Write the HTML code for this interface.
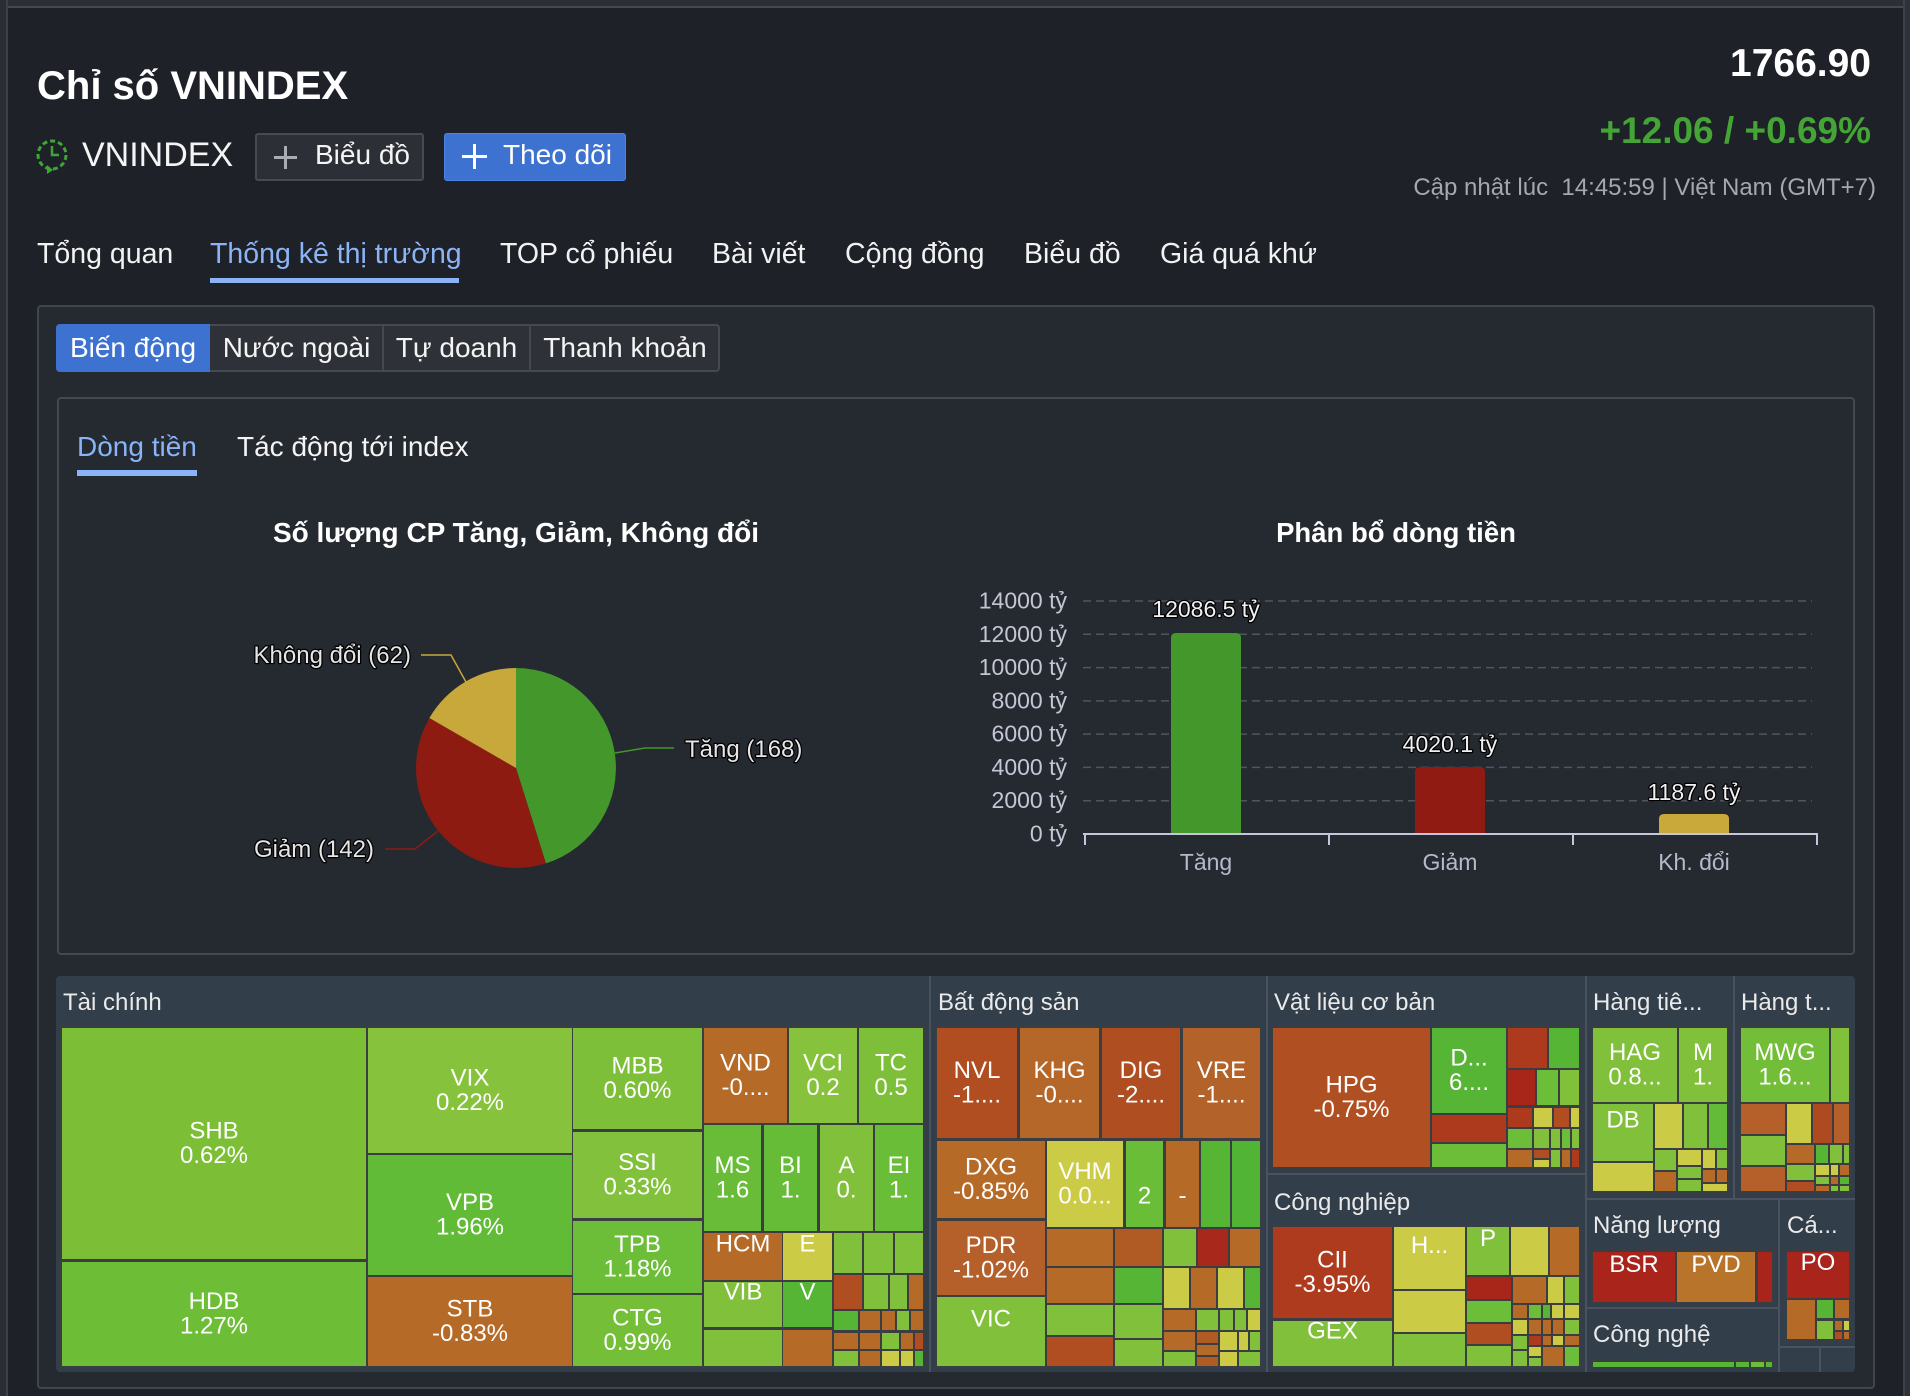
<!DOCTYPE html>
<html><head><meta charset="utf-8">
<style>
*{margin:0;padding:0;box-sizing:border-box}
html,body{width:1910px;height:1396px;overflow:hidden;background:#1e2128}
body{position:relative;font-family:"Liberation Sans","DejaVu Sans",sans-serif;color:#fff}
.a{position:absolute;white-space:nowrap}
.nav{top:240px;font-size:28.5px;line-height:29px;color:#f2f2f2}
.tb{top:324px;height:48px;display:flex;align-items:center;justify-content:center;font-size:28px;color:#f4f4f4}
</style></head><body>

<!-- window chrome -->
<div class="a" style="left:0;top:0;width:1910px;height:6px;background:#2c2f36"></div>
<div class="a" style="left:0;top:6px;width:1910px;height:2px;background:#454850"></div>
<div class="a" style="left:0;top:0;width:6px;height:1396px;background:#2a2d33"></div>
<div class="a" style="left:6px;top:0;width:2px;height:1396px;background:#3e4148"></div>
<div class="a" style="left:1903px;top:0;width:2px;height:1396px;background:#3e4148"></div>
<div class="a" style="left:1905px;top:0;width:5px;height:1396px;background:#2f3238"></div>

<!-- header -->
<div class="a" style="left:37px;top:66px;font-size:40px;line-height:40px;font-weight:bold">Chỉ số VNINDEX</div>

<svg class="a" style="left:35px;top:137px" width="36" height="38" viewBox="0 0 36 38">
<circle cx="17" cy="18" r="14" fill="none" stroke="#3fa535" stroke-width="3" stroke-dasharray="5 3"/>
<path d="M17 9 V18 H24" fill="none" stroke="#3fa535" stroke-width="2.5"/>
<path d="M12 28 L18 33 L12 37 Z" fill="#3fa535"/>
</svg>
<div class="a" style="left:82px;top:138px;font-size:34px;line-height:34px;color:#f4f4f4">VNINDEX</div>

<div class="a" style="left:255px;top:133px;width:169px;height:48px;background:#2c2f36;border:2px solid #474a51;border-radius:3px"></div>
<div class="a" style="left:274px;top:156px;width:23px;height:3px;background:#a9acb3"></div>
<div class="a" style="left:284px;top:146px;width:3px;height:23px;background:#a9acb3"></div>
<div class="a" style="left:315px;top:141px;font-size:28px;line-height:28px;color:#f4f4f4">Biểu đồ</div>

<div class="a" style="left:444px;top:133px;width:182px;height:48px;background:#3d72d1;border:1px solid #4d84e4;border-radius:3px"></div>
<div class="a" style="left:462px;top:155px;width:25px;height:3px;background:#fff"></div>
<div class="a" style="left:473px;top:144px;width:3px;height:25px;background:#fff"></div>
<div class="a" style="left:503px;top:141px;font-size:28px;line-height:28px;color:#fff">Theo dõi</div>

<div class="a" style="right:39px;top:44px;font-size:39px;line-height:39px;font-weight:bold">1766.90</div>
<div class="a" style="right:39px;top:112px;font-size:37px;line-height:37px;font-weight:bold;color:#44a536">+12.06 / +0.69%</div>
<div class="a" style="right:34px;top:176px;font-size:24px;line-height:24px;color:#a5a8b0">Cập nhật lúc&nbsp; 14:45:59 | Việt Nam (GMT+7)</div>

<!-- nav -->
<div class="a nav" style="left:37px">Tổng quan</div>
<div class="a nav" style="left:210px;color:#8cb4f5">Thống kê thị trường</div>
<div class="a nav" style="left:500px">TOP cổ phiếu</div>
<div class="a nav" style="left:712px">Bài viết</div>
<div class="a nav" style="left:845px">Cộng đồng</div>
<div class="a nav" style="left:1024px">Biểu đồ</div>
<div class="a nav" style="left:1160px">Giá quá khứ</div>
<div class="a" style="left:210px;top:278px;width:249px;height:5px;background:#8cb4f5"></div>

<!-- panel -->
<div class="a" style="left:37px;top:305px;width:1838px;height:1084px;background:#252930;border:2px solid #41454c;border-radius:4px"></div>

<div class="a" style="left:56px;top:324px;width:664px;height:48px;background:#2e3138;border:2px solid #44484f;border-radius:4px"></div>
<div class="a" style="left:56px;top:324px;width:154px;height:48px;background:#3d72d0;border-radius:4px 0 0 4px"></div>
<div class="a" style="left:382px;top:324px;width:2px;height:48px;background:#44484f"></div>
<div class="a" style="left:529px;top:324px;width:2px;height:48px;background:#44484f"></div>
<div class="a tb" style="left:56px;width:154px;color:#fff">Biến động</div>
<div class="a tb" style="left:210px;width:173px">Nước ngoài</div>
<div class="a tb" style="left:383px;width:147px">Tự doanh</div>
<div class="a tb" style="left:530px;width:190px">Thanh khoản</div>

<div class="a" style="left:57px;top:397px;width:1798px;height:558px;border:2px solid #45494f;border-radius:4px"></div>
<div class="a" style="left:77px;top:433px;font-size:28px;line-height:28px;color:#8ab4f8">Dòng tiền</div>
<div class="a" style="left:77px;top:470px;width:120px;height:6px;background:#8ab4f8"></div>
<div class="a" style="left:237px;top:433px;font-size:28px;line-height:28px;color:#f4f4f4">Tác động tới index</div>

<!-- treemap container -->
<div class="a" style="left:56px;top:976px;width:1799px;height:396px;background:#333e4b;border-radius:4px"></div>

<svg class="a" style="left:0;top:0" width="1910" height="1396" font-family="Liberation Sans, DejaVu Sans, sans-serif">
<!-- pie chart -->
<text x="516" y="542" text-anchor="middle" font-size="28" font-weight="bold" fill="#fff">Số lượng CP Tăng, Giảm, Không đổi</text>
<path d="M516,768 L516,668 A100,100 0 0 1 545.9,863.4 Z" fill="#43972b"/>
<path d="M516,768 L545.9,863.4 A100,100 0 0 1 429.4,718 Z" fill="#8e1b12"/>
<path d="M516,768 L429.4,718 A100,100 0 0 1 516,668 Z" fill="#c8a83a"/>
<polyline points="466,682 451,655 421,655" fill="none" stroke="#c8a83a" stroke-width="1.5"/>
<polyline points="615,753 645,748 674,748" fill="none" stroke="#43972b" stroke-width="1.5"/>
<polyline points="438,831 415,849 385,849" fill="none" stroke="#8e1b12" stroke-width="1.5"/>
<g font-size="24" fill="#e6e6e6" stroke="#000" stroke-width="2.5" paint-order="stroke" stroke-linejoin="round">
<text x="411" y="663" text-anchor="end">Không đổi (62)</text>
<text x="685" y="757">Tăng (168)</text>
<text x="374" y="857" text-anchor="end">Giảm (142)</text>
</g>

<!-- bar chart -->
<text x="1396" y="542" text-anchor="middle" font-size="27.5" font-weight="bold" fill="#fff">Phân bổ dòng tiền</text>
<g stroke="#50555f" stroke-width="1.5" stroke-dasharray="8 5">
<line x1="1083" y1="601" x2="1812" y2="601"/>
<line x1="1083" y1="634.3" x2="1812" y2="634.3"/>
<line x1="1083" y1="667.6" x2="1812" y2="667.6"/>
<line x1="1083" y1="700.9" x2="1812" y2="700.9"/>
<line x1="1083" y1="734.1" x2="1812" y2="734.1"/>
<line x1="1083" y1="767.4" x2="1812" y2="767.4"/>
<line x1="1083" y1="800.7" x2="1812" y2="800.7"/>
</g>
<g font-size="23" fill="#c5c5d5" text-anchor="end">
<text x="1067" y="608.5">14000 tỷ</text>
<text x="1067" y="641.8">12000 tỷ</text>
<text x="1067" y="675.1">10000 tỷ</text>
<text x="1067" y="708.4">8000 tỷ</text>
<text x="1067" y="741.6">6000 tỷ</text>
<text x="1067" y="774.9">4000 tỷ</text>
<text x="1067" y="808.2">2000 tỷ</text>
<text x="1067" y="841.5">0 tỷ</text>
</g>
<path d="M1171,834 V638 Q1171,633 1176,633 H1236 Q1241,633 1241,638 V834 Z" fill="#43972b"/>
<path d="M1415,834 V772 Q1415,767 1420,767 H1480 Q1485,767 1485,772 V834 Z" fill="#8f1b12"/>
<path d="M1659,834 V819 Q1659,814 1664,814 H1724 Q1729,814 1729,819 V834 Z" fill="#c9a93a"/>
<g stroke="#c5c5dc" stroke-width="2" fill="none">
<line x1="1083" y1="834" x2="1818" y2="834"/>
<line x1="1085" y1="834" x2="1085" y2="845"/>
<line x1="1329" y1="834" x2="1329" y2="845"/>
<line x1="1573" y1="834" x2="1573" y2="845"/>
<line x1="1817" y1="834" x2="1817" y2="845"/>
</g>
<g font-size="23" fill="#f0f0f0" stroke="#000" stroke-width="2.5" paint-order="stroke" stroke-linejoin="round" text-anchor="middle">
<text x="1206" y="617">12086.5 tỷ</text>
<text x="1450" y="752">4020.1 tỷ</text>
<text x="1694" y="800">1187.6 tỷ</text>
</g>
<g font-size="23" fill="#b8b8cc" text-anchor="middle">
<text x="1206" y="870">Tăng</text>
<text x="1450" y="870">Giảm</text>
<text x="1694" y="870">Kh. đổi</text>
</g>

<!-- treemap tile area backgrounds -->
<g fill="#3a3d41">
<rect x="60" y="1026" width="865" height="342"/>
<rect x="935" y="1026" width="327" height="342"/>
<rect x="1271" y="1026" width="310" height="143"/>
<rect x="1271" y="1225" width="310" height="143"/>
<rect x="1591" y="1026" width="138" height="167"/>
<rect x="1739" y="1026" width="112" height="167"/>
<rect x="1591" y="1250" width="183" height="54"/>
<rect x="1785" y="1250" width="66" height="91"/>
<rect x="1591" y="1360" width="183" height="8"/>
</g>

<!-- separators -->
<g fill="#4a5260">
<rect x="929" y="976" width="2" height="396"/>
<rect x="1266" y="976" width="2" height="396"/>
<rect x="1585" y="976" width="2" height="396"/>
<rect x="1268" y="1173" width="317" height="2"/>
<rect x="1587" y="1198" width="268" height="2"/>
<rect x="1733" y="976" width="2" height="222"/>
<rect x="1587" y="1307" width="191" height="2"/>
<rect x="1778" y="1200" width="2" height="172"/>
<rect x="1780" y="1346" width="75" height="2"/>
<rect x="1819" y="1348" width="2" height="24"/>
</g>

<!-- Tài chính tiles -->
<rect x="62" y="1028" width="304" height="231" fill="#7cbf37"/>
<rect x="62" y="1262" width="304" height="104" fill="#6dbd37"/>
<rect x="368" y="1028" width="204" height="125" fill="#87c23c"/>
<rect x="368" y="1155" width="204" height="120" fill="#61bb36"/>
<rect x="368" y="1277" width="204" height="89" fill="#b56a27"/>
<rect x="573" y="1028" width="129" height="101" fill="#7dbf39"/>
<rect x="573" y="1132" width="129" height="86" fill="#82c13b"/>
<rect x="573" y="1221" width="129" height="72" fill="#6cbd37"/>
<rect x="573" y="1295" width="129" height="71" fill="#74be38"/>
<rect x="704" y="1028" width="83" height="95" fill="#b56a27"/>
<rect x="789" y="1028" width="68" height="95" fill="#87c23c"/>
<rect x="859" y="1028" width="64" height="95" fill="#7dbf39"/>
<rect x="704" y="1125" width="57" height="106" fill="#68bc37"/>
<rect x="764" y="1125" width="53" height="106" fill="#66bb37"/>
<rect x="820" y="1125" width="53" height="106" fill="#80c03a"/>
<rect x="875" y="1125" width="48" height="106" fill="#6abd37"/>
<rect x="704" y="1233" width="78" height="47" fill="#b56a27"/>
<rect x="783" y="1233" width="49" height="47" fill="#cccb45"/>
<rect x="704" y="1282" width="78" height="45" fill="#80c03a"/>
<rect x="783" y="1282" width="49" height="45" fill="#56b535"/>
<rect x="704" y="1330" width="78" height="36" fill="#80c03a"/>
<rect x="783" y="1330" width="49" height="36" fill="#b56a27"/>
<rect x="834" y="1233" width="28" height="40" fill="#80c03a"/>
<rect x="864" y="1233" width="29" height="40" fill="#80c03a"/>
<rect x="895" y="1233" width="28" height="40" fill="#80c03a"/>
<rect x="834" y="1275" width="28" height="34" fill="#b04e21"/>
<rect x="864" y="1275" width="24" height="34" fill="#80c03a"/>
<rect x="890" y="1275" width="17" height="34" fill="#80c03a"/>
<rect x="909" y="1275" width="14" height="34" fill="#b56a27"/>
<rect x="834" y="1311" width="24" height="19" fill="#56b535"/>
<rect x="860" y="1311" width="20" height="19" fill="#b56a27"/>
<rect x="882" y="1311" width="13" height="19" fill="#b56a27"/>
<rect x="897" y="1311" width="12" height="19" fill="#80c03a"/>
<rect x="911" y="1311" width="12" height="19" fill="#b56a27"/>
<rect x="834" y="1333" width="24" height="16" fill="#b56a27"/>
<rect x="860" y="1333" width="20" height="16" fill="#b56a27"/>
<rect x="882" y="1333" width="17" height="16" fill="#80c03a"/>
<rect x="901" y="1333" width="12" height="16" fill="#b56a27"/>
<rect x="915" y="1333" width="8" height="16" fill="#b04e21"/>
<rect x="834" y="1351" width="24" height="15" fill="#80c03a"/>
<rect x="860" y="1351" width="20" height="15" fill="#b56a27"/>
<rect x="882" y="1351" width="17" height="15" fill="#cccb45"/>
<rect x="901" y="1351" width="12" height="15" fill="#cccb45"/>
<rect x="915" y="1351" width="8" height="15" fill="#56b535"/>

<!-- Bất động sản tiles -->
<rect x="937" y="1028" width="80" height="110" fill="#b04e21"/>
<rect x="1020" y="1028" width="79" height="110" fill="#b5672a"/>
<rect x="1102" y="1028" width="78" height="110" fill="#af4e20"/>
<rect x="1183" y="1028" width="77" height="110" fill="#b3622a"/>
<rect x="937" y="1141" width="108" height="77" fill="#b56a27"/>
<rect x="937" y="1221" width="108" height="74" fill="#b5602a"/>
<rect x="937" y="1297" width="108" height="69" fill="#80c03a"/>
<rect x="1047" y="1141" width="76" height="86" fill="#cccb45"/>
<rect x="1126" y="1141" width="37" height="86" fill="#6abd37"/>
<rect x="1166" y="1141" width="33" height="86" fill="#b56a27"/>
<rect x="1201" y="1141" width="29" height="86" fill="#56b535"/>
<rect x="1232" y="1141" width="28" height="86" fill="#52b434"/>
<rect x="1047" y="1229" width="66" height="37" fill="#b56a27"/>
<rect x="1115" y="1229" width="47" height="37" fill="#b05a24"/>
<rect x="1164" y="1229" width="32" height="37" fill="#80c03a"/>
<rect x="1198" y="1229" width="30" height="37" fill="#a8291b"/>
<rect x="1230" y="1229" width="30" height="37" fill="#b56a27"/>
<rect x="1047" y="1268" width="66" height="35" fill="#b56a27"/>
<rect x="1115" y="1268" width="47" height="35" fill="#56b535"/>
<rect x="1164" y="1268" width="25" height="40" fill="#cccb45"/>
<rect x="1191" y="1268" width="25" height="40" fill="#b56a27"/>
<rect x="1218" y="1268" width="25" height="40" fill="#cccb45"/>
<rect x="1245" y="1268" width="15" height="40" fill="#56b535"/>
<rect x="1047" y="1305" width="66" height="30" fill="#80c03a"/>
<rect x="1115" y="1305" width="47" height="33" fill="#80c03a"/>
<rect x="1047" y="1337" width="66" height="29" fill="#b04e21"/>
<rect x="1115" y="1340" width="47" height="26" fill="#80c03a"/>
<rect x="1164" y="1310" width="31" height="20" fill="#b56a27"/>
<rect x="1197" y="1310" width="21" height="20" fill="#80c03a"/>
<rect x="1220" y="1310" width="13" height="20" fill="#80c03a"/>
<rect x="1235" y="1310" width="11" height="20" fill="#80c03a"/>
<rect x="1248" y="1310" width="12" height="20" fill="#cccb45"/>
<rect x="1164" y="1332" width="31" height="18" fill="#b56a27"/>
<rect x="1197" y="1332" width="21" height="11" fill="#b05a24"/>
<rect x="1220" y="1332" width="17" height="18" fill="#cccb45"/>
<rect x="1239" y="1332" width="9" height="18" fill="#cccb45"/>
<rect x="1250" y="1332" width="10" height="18" fill="#80c03a"/>
<rect x="1164" y="1352" width="31" height="14" fill="#80c03a"/>
<rect x="1197" y="1345" width="21" height="10" fill="#b56a27"/>
<rect x="1197" y="1357" width="21" height="9" fill="#b05a24"/>
<rect x="1220" y="1352" width="17" height="14" fill="#cccb45"/>
<rect x="1239" y="1352" width="21" height="14" fill="#80c03a"/>

<!-- Vật liệu cơ bản tiles -->
<rect x="1273" y="1028" width="157" height="139" fill="#b04f21"/>
<rect x="1432" y="1028" width="74" height="85" fill="#57b535"/>
<rect x="1432" y="1115" width="74" height="27" fill="#ad3a1c"/>
<rect x="1432" y="1144" width="74" height="23" fill="#6cbd37"/>
<rect x="1508" y="1028" width="39" height="40" fill="#ad3a1c"/>
<rect x="1549" y="1028" width="30" height="40" fill="#56b535"/>
<rect x="1508" y="1070" width="27" height="35" fill="#a8251a"/>
<rect x="1537" y="1070" width="21" height="35" fill="#6cbd37"/>
<rect x="1560" y="1070" width="19" height="35" fill="#80c03a"/>
<rect x="1508" y="1108" width="24" height="19" fill="#ad3a1c"/>
<rect x="1534" y="1108" width="18" height="19" fill="#cccb45"/>
<rect x="1554" y="1108" width="15" height="19" fill="#b04e21"/>
<rect x="1571" y="1108" width="8" height="19" fill="#cccb45"/>
<rect x="1508" y="1129" width="24" height="19" fill="#6cbd37"/>
<rect x="1534" y="1129" width="15" height="19" fill="#80c03a"/>
<rect x="1551" y="1129" width="9" height="19" fill="#80c03a"/>
<rect x="1562" y="1129" width="8" height="19" fill="#6cbd37"/>
<rect x="1572" y="1129" width="7" height="19" fill="#80c03a"/>
<rect x="1508" y="1150" width="24" height="17" fill="#b56a27"/>
<rect x="1534" y="1150" width="15" height="8" fill="#b04e21"/>
<rect x="1534" y="1160" width="15" height="7" fill="#cccb45"/>
<rect x="1551" y="1150" width="9" height="17" fill="#80c03a"/>
<rect x="1562" y="1150" width="8" height="17" fill="#b56a27"/>
<rect x="1572" y="1150" width="7" height="17" fill="#ad3a1c"/>

<!-- Công nghiệp tiles -->
<rect x="1273" y="1227" width="119" height="91" fill="#ae3b1d"/>
<rect x="1273" y="1321" width="119" height="45" fill="#80c03a"/>
<rect x="1394" y="1227" width="71" height="62" fill="#cccb45"/>
<rect x="1394" y="1291" width="71" height="41" fill="#cccb45"/>
<rect x="1394" y="1334" width="71" height="32" fill="#80c03a"/>
<rect x="1467" y="1227" width="42" height="48" fill="#80c03a"/>
<rect x="1511" y="1227" width="37" height="48" fill="#cccb45"/>
<rect x="1550" y="1227" width="29" height="48" fill="#b56a27"/>
<rect x="1467" y="1277" width="44" height="22" fill="#a8251a"/>
<rect x="1467" y="1301" width="44" height="21" fill="#6cbd37"/>
<rect x="1467" y="1324" width="44" height="20" fill="#b04e21"/>
<rect x="1467" y="1346" width="44" height="20" fill="#80c03a"/>
<rect x="1513" y="1277" width="33" height="26" fill="#b56a27"/>
<rect x="1548" y="1277" width="15" height="26" fill="#cccb45"/>
<rect x="1565" y="1277" width="14" height="26" fill="#80c03a"/>
<rect x="1513" y="1305" width="14" height="13" fill="#b56a27"/>
<rect x="1529" y="1305" width="12" height="13" fill="#6cbd37"/>
<rect x="1543" y="1305" width="7" height="13" fill="#56b535"/>
<rect x="1552" y="1305" width="11" height="13" fill="#cccb45"/>
<rect x="1565" y="1305" width="14" height="13" fill="#cccb45"/>
<rect x="1513" y="1320" width="14" height="14" fill="#cccb45"/>
<rect x="1529" y="1320" width="12" height="14" fill="#b56a27"/>
<rect x="1543" y="1320" width="8" height="14" fill="#b56a27"/>
<rect x="1553" y="1320" width="10" height="14" fill="#b56a27"/>
<rect x="1565" y="1320" width="14" height="14" fill="#80c03a"/>
<rect x="1513" y="1336" width="14" height="13" fill="#80c03a"/>
<rect x="1529" y="1336" width="12" height="9" fill="#ad3a1c"/>
<rect x="1543" y="1336" width="8" height="9" fill="#b56a27"/>
<rect x="1553" y="1336" width="10" height="9" fill="#cccb45"/>
<rect x="1565" y="1336" width="14" height="9" fill="#b56a27"/>
<rect x="1513" y="1351" width="14" height="15" fill="#80c03a"/>
<rect x="1529" y="1347" width="12" height="9" fill="#cccb45"/>
<rect x="1529" y="1358" width="12" height="8" fill="#80c03a"/>
<rect x="1543" y="1347" width="20" height="19" fill="#b56a27"/>
<rect x="1565" y="1347" width="14" height="19" fill="#6cbd37"/>

<!-- Hàng tiêu dùng tiles -->
<rect x="1593" y="1028" width="84" height="74" fill="#80c03a"/>
<rect x="1679" y="1028" width="48" height="74" fill="#80c03a"/>
<rect x="1593" y="1104" width="60" height="57" fill="#80c03a"/>
<rect x="1593" y="1163" width="60" height="28" fill="#cccb45"/>
<rect x="1655" y="1104" width="27" height="44" fill="#cccb45"/>
<rect x="1684" y="1104" width="23" height="44" fill="#80c03a"/>
<rect x="1709" y="1104" width="18" height="44" fill="#64bb37"/>
<rect x="1655" y="1150" width="21" height="20" fill="#80c03a"/>
<rect x="1655" y="1172" width="21" height="19" fill="#b56a27"/>
<rect x="1678" y="1150" width="23" height="15" fill="#cccb45"/>
<rect x="1678" y="1167" width="23" height="11" fill="#80c03a"/>
<rect x="1678" y="1180" width="23" height="11" fill="#80c03a"/>
<rect x="1703" y="1150" width="12" height="18" fill="#cccb45"/>
<rect x="1717" y="1150" width="10" height="18" fill="#80c03a"/>
<rect x="1703" y="1170" width="12" height="12" fill="#b56a27"/>
<rect x="1717" y="1170" width="10" height="12" fill="#b56a27"/>
<rect x="1703" y="1184" width="24" height="7" fill="#cccb45"/>

<!-- Hàng t... tiles -->
<rect x="1741" y="1028" width="88" height="74" fill="#73be38"/>
<rect x="1831" y="1028" width="18" height="74" fill="#80c03a"/>
<rect x="1741" y="1104" width="44" height="30" fill="#b5602a"/>
<rect x="1741" y="1136" width="44" height="29" fill="#80c03a"/>
<rect x="1741" y="1167" width="44" height="24" fill="#b5602a"/>
<rect x="1787" y="1104" width="24" height="39" fill="#cccb45"/>
<rect x="1813" y="1104" width="19" height="39" fill="#ad4a1f"/>
<rect x="1834" y="1104" width="15" height="39" fill="#b5602a"/>
<rect x="1787" y="1145" width="27" height="18" fill="#b56a27"/>
<rect x="1787" y="1165" width="27" height="15" fill="#80c03a"/>
<rect x="1787" y="1182" width="27" height="9" fill="#b04e21"/>
<rect x="1816" y="1145" width="12" height="18" fill="#56b535"/>
<rect x="1830" y="1145" width="12" height="18" fill="#80c03a"/>
<rect x="1844" y="1145" width="5" height="18" fill="#80c03a"/>
<rect x="1816" y="1165" width="13" height="10" fill="#cccb45"/>
<rect x="1831" y="1165" width="7" height="10" fill="#cccb45"/>
<rect x="1840" y="1165" width="9" height="10" fill="#b56a27"/>
<rect x="1816" y="1177" width="13" height="7" fill="#80c03a"/>
<rect x="1831" y="1177" width="7" height="7" fill="#b56a27"/>
<rect x="1840" y="1177" width="9" height="7" fill="#56b535"/>
<rect x="1816" y="1186" width="13" height="5" fill="#b56a27"/>
<rect x="1831" y="1186" width="7" height="5" fill="#80c03a"/>
<rect x="1840" y="1186" width="9" height="5" fill="#80c03a"/>

<!-- Năng lượng -->
<rect x="1593" y="1252" width="82" height="50" fill="#a9251b"/>
<rect x="1677" y="1252" width="78" height="50" fill="#b8742a"/>
<rect x="1758" y="1252" width="14" height="50" fill="#a9251b"/>

<!-- Cá... -->
<rect x="1787" y="1252" width="62" height="46" fill="#a9251b"/>
<rect x="1787" y="1300" width="28" height="39" fill="#b56a27"/>
<rect x="1817" y="1300" width="16" height="18" fill="#56b535"/>
<rect x="1835" y="1300" width="14" height="18" fill="#b56a27"/>
<rect x="1817" y="1321" width="16" height="18" fill="#80c03a"/>
<rect x="1835" y="1321" width="7" height="9" fill="#b56a27"/>
<rect x="1844" y="1321" width="5" height="9" fill="#cccb45"/>
<rect x="1835" y="1332" width="7" height="7" fill="#b04e21"/>
<rect x="1844" y="1332" width="5" height="7" fill="#b56a27"/>

<!-- Công nghệ -->
<rect x="1593" y="1362" width="141" height="5" fill="#56b535"/>
<rect x="1736" y="1362" width="13" height="5" fill="#56b535"/>
<rect x="1751" y="1362" width="13" height="5" fill="#6cbd37"/>
<rect x="1766" y="1362" width="6" height="5" fill="#56b535"/>

<!-- group headers -->
<g font-size="24" fill="#eaeaea">
<text x="63" y="1010">Tài chính</text>
<text x="938" y="1010">Bất động sản</text>
<text x="1274" y="1010">Vật liệu cơ bản</text>
<text x="1274" y="1210">Công nghiệp</text>
<text x="1593" y="1010">Hàng tiê...</text>
<text x="1741" y="1010">Hàng t...</text>
<text x="1593" y="1233">Năng lượng</text>
<text x="1787" y="1233">Cá...</text>
<text x="1593" y="1342">Công nghệ</text>
</g>

<!-- tile labels -->
<g font-size="24" fill="#fff" text-anchor="middle">
<text x="214" y="1138.5">SHB</text><text x="214" y="1163">0.62%</text>
<text x="214" y="1309">HDB</text><text x="214" y="1333.5">1.27%</text>
<text x="470" y="1085.5">VIX</text><text x="470" y="1110">0.22%</text>
<text x="470" y="1210">VPB</text><text x="470" y="1234.5">1.96%</text>
<text x="470" y="1316.5">STB</text><text x="470" y="1341">-0.83%</text>
<text x="637.5" y="1073.5">MBB</text><text x="637.5" y="1098">0.60%</text>
<text x="637.5" y="1170">SSI</text><text x="637.5" y="1194.5">0.33%</text>
<text x="637.5" y="1252">TPB</text><text x="637.5" y="1276.5">1.18%</text>
<text x="637.5" y="1325.5">CTG</text><text x="637.5" y="1350">0.99%</text>
<text x="745.5" y="1070.5">VND</text><text x="745.5" y="1095">-0....</text>
<text x="823" y="1070.5">VCI</text><text x="823" y="1095">0.2</text>
<text x="891" y="1070.5">TC</text><text x="891" y="1095">0.5</text>
<text x="732.5" y="1173">MS</text><text x="732.5" y="1197.5">1.6</text>
<text x="790.5" y="1173">BI</text><text x="790.5" y="1197.5">1.</text>
<text x="846.5" y="1173">A</text><text x="846.5" y="1197.5">0.</text>
<text x="899" y="1173">EI</text><text x="899" y="1197.5">1.</text>
<text x="743" y="1251.5">HCM</text>
<text x="807.5" y="1251.5">E</text>
<text x="743" y="1299.5">VIB</text>
<text x="807.5" y="1299.5">V</text>
<text x="977" y="1078">NVL</text><text x="977" y="1102.5">-1....</text>
<text x="1059.5" y="1078">KHG</text><text x="1059.5" y="1102.5">-0....</text>
<text x="1141" y="1078">DIG</text><text x="1141" y="1102.5">-2....</text>
<text x="1221.5" y="1078">VRE</text><text x="1221.5" y="1102.5">-1....</text>
<text x="991" y="1174.5">DXG</text><text x="991" y="1199">-0.85%</text>
<text x="991" y="1253">PDR</text><text x="991" y="1277.5">-1.02%</text>
<text x="991" y="1326.5">VIC</text>
<text x="1085" y="1179">VHM</text><text x="1085" y="1203.5">0.0...</text>
<text x="1144.5" y="1203.5">2</text>
<text x="1182.5" y="1203.5">-</text>
<text x="1351.5" y="1092.5">HPG</text><text x="1351.5" y="1117">-0.75%</text>
<text x="1469" y="1065.5">D...</text><text x="1469" y="1090">6....</text>
<text x="1332.5" y="1267.5">CII</text><text x="1332.5" y="1292">-3.95%</text>
<text x="1332.5" y="1338.5">GEX</text>
<text x="1429.5" y="1253">H...</text>
<text x="1488" y="1246">P</text>
<text x="1635" y="1060">HAG</text><text x="1635" y="1084.5">0.8...</text>
<text x="1703" y="1060">M</text><text x="1703" y="1084.5">1.</text>
<text x="1623" y="1127.5">DB</text>
<text x="1785" y="1060">MWG</text><text x="1785" y="1084.5">1.6...</text>
<text x="1634" y="1272">BSR</text>
<text x="1716" y="1272">PVD</text>
<text x="1818" y="1270">PO</text>
</g>
</svg>
</body></html>
